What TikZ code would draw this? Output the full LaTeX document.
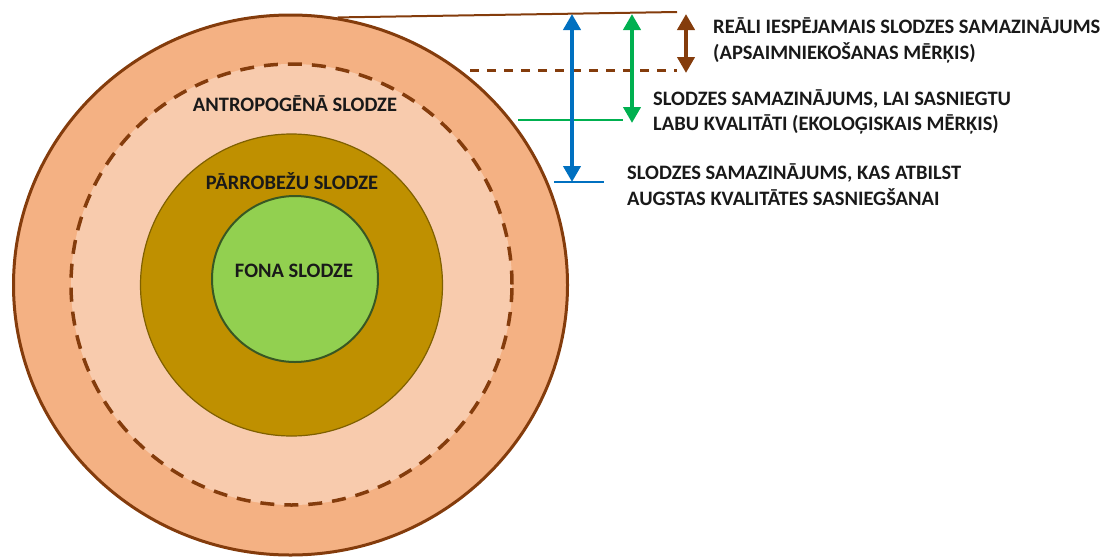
\documentclass[tikz,border=0pt]{standalone}
\usepackage{fontspec}
\setmainfont{Carlito}
\usetikzlibrary{shapes.geometric,arrows.meta,positioning}
\definecolor{outerFill}{HTML}{F4B183}
\definecolor{innerFill}{HTML}{F8CBAD}
\definecolor{goldFill}{HTML}{BF9000}
\definecolor{goldLine}{HTML}{7F6000}
\definecolor{greenFill}{HTML}{92D050}
\definecolor{greenLine}{HTML}{385723}
\definecolor{brownLine}{HTML}{843C0C}
\definecolor{blueArrow}{HTML}{0070C0}
\definecolor{greenArrow}{HTML}{00B050}
\tikzset{
  ring/.style={circle, inner sep=0pt},
  lbl/.style={font=\bfseries\fontsize{20.5}{25.5}\selectfont, text=black!90},
  note/.style={lbl, align=left, anchor=west, inner sep=0pt},
  dimarrow/.style={line width=4pt, {Triangle[width=17pt,length=16pt]}-{Triangle[width=17pt,length=16pt]}}
}

\begin{document}
\begin{tikzpicture}[x=1pt, y=-1pt]
\useasboundingbox (0,0) rectangle (1107,557);
% load rings
\node[ellipse, inner sep=0pt, minimum width=554pt, minimum height=540pt, fill=outerFill, draw=brownLine, line width=3pt] (outer) at (290.5,285) {};
\node[ring, minimum size=441pt, fill=innerFill] (anthro) at (291.5,284.5) {};
\draw[brownLine, line width=3.5pt, dash pattern=on 14pt off 10pt] (anthro.center) circle[radius=220.5pt];
\node[ring, minimum size=302pt, fill=goldFill, draw=goldLine, line width=1.2pt] (trans) at (291.5,285) {};
\node[ring, minimum size=166pt, fill=greenFill, draw=greenLine, line width=2pt] (fona) at (295,279) {};
\node[lbl] (anthroLbl) at (295,104) {ANTROPOGĒNĀ SLODZE};
\node[lbl] (transLbl) at (292,181) {PĀRROBEŽU SLODZE};
\node[lbl] (fonaLbl) at (294,271) {FONA SLODZE};
% reference levels
\coordinate (topR) at (677,12);
\coordinate (dashL) at (470,70);
\coordinate (dashR) at (677,70);
\coordinate (goodL) at (518,120);
\coordinate (goodR) at (623,120);
\coordinate (highL) at (554,182);
\coordinate (highR) at (604,182);
\draw[brownLine, line width=2pt] (outer.80) -- (topR);
\draw[brownLine, line width=3pt, dash pattern=on 9pt off 8pt] (dashL) -- (dashR);
\draw[greenArrow, line width=2.5pt] (goodL) -- (goodR);
\draw[blueArrow, line width=2.5pt] (highL) -- (highR);
% reductions
\draw[dimarrow, brownLine] (686,14) -- (686,73);
\draw[dimarrow, greenArrow] (632,14) -- (632,123);
\draw[dimarrow, blueArrow] (572,14) -- (572,182);
\node[note] (realTxt) at (713,40.5) {REĀLI IESPĒJAMAIS SLODZES SAMAZINĀJUMS\\(APSAIMNIEKOŠANAS MĒRĶIS)};
\node[note] (ecoTxt) at (653,112) {SLODZES SAMAZINĀJUMS, LAI SASNIEGTU\\LABU KVALITĀTI (EKOLOĢISKAIS MĒRĶIS)};
\node[note] (highTxt) at (627,184.5) {SLODZES SAMAZINĀJUMS, KAS ATBILST\\AUGSTAS KVALITĀTES SASNIEGŠANAI};
\end{tikzpicture}
\end{document}
